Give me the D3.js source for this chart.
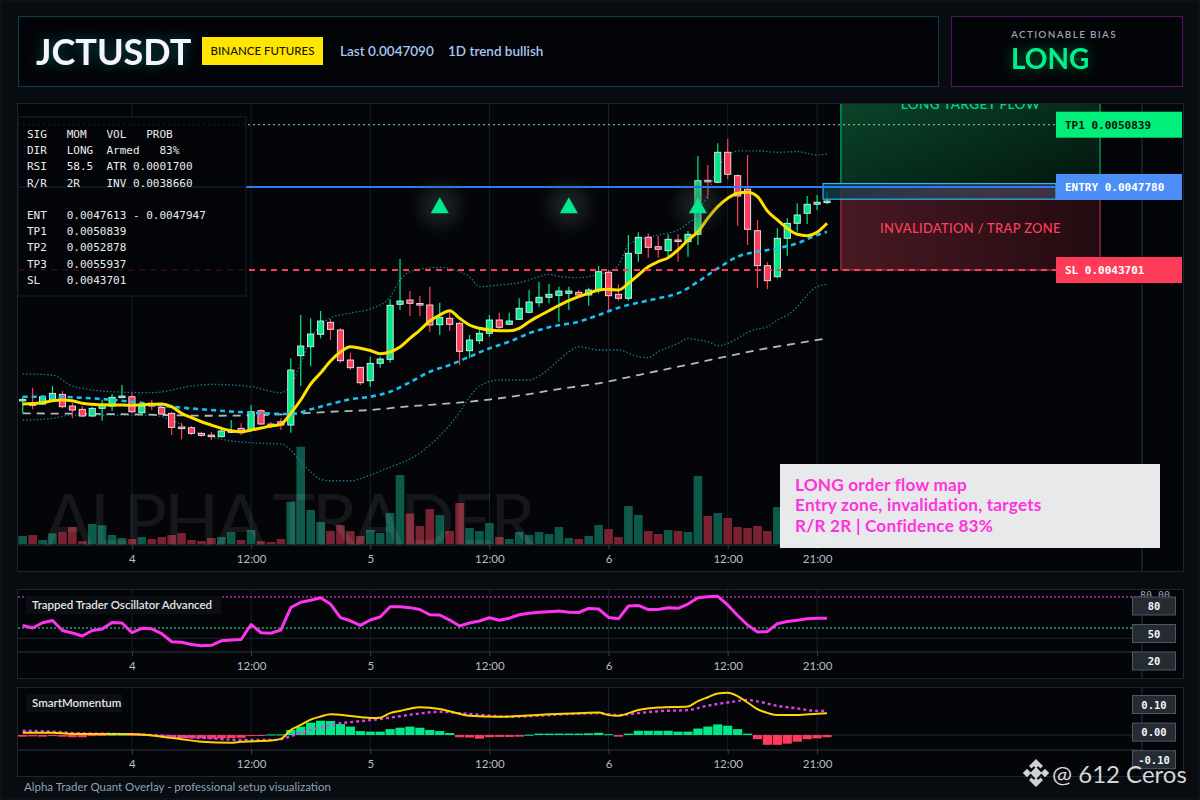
<!DOCTYPE html>
<html>
<head>
<meta charset="utf-8">
<script src="https://cdn.jsdelivr.net/npm/d3@7"></script>
<style>
  body { margin: 0; background: #080b10; }
  svg { display: block; }
</style>
</head>
<body>
<div id="chart"></div>
<script>
// ---- data (hourly candles, day 3 13:00 -> day 6 22:00) ----
const candleOpen = [0.0037279,0.0037151,0.0037116,0.0037313,0.0037593,0.0037018,0.0036856,0.0036527,0.0036905,0.0037018,
  0.0037446,0.0037475,0.0036689,0.0037116,0.0036954,0.0036659,0.0035986,0.0035952,0.0035677,0.0035593,
  0.0035510,0.0035740,0.0035922,0.0035839,0.0036787,0.0036134,0.0036247,0.0036084,0.0039490,0.0039932,
  0.0040542,0.0041131,0.0040753,0.0039279,0.0038920,0.0038261,0.0039116,0.0039313,0.0042016,0.0042227,
  0.0042055,0.0041981,0.0041013,0.0041328,0.0041082,0.0039736,0.0040227,0.0040591,0.0041244,0.0041033,
  0.0041279,0.0041623,0.0042094,0.0042360,0.0042458,0.0042556,0.0042605,0.0042473,0.0042718,0.0043588,
  0.0042507,0.0042310,0.0044522,0.0045308,0.0044846,0.0044650,0.0045175,0.0045092,0.0045455,0.0048109,
  0.0048011,0.0049485,0.0048335,0.0047667,0.0045632,0.0043912,0.0043372,0.0045259,0.0045996,0.0046487,
  0.0046930,0.0047043];
const candleClose = [0.0037347,0.0037053,0.0037475,0.0037642,0.0036984,0.0036822,0.0036527,0.0036905,0.0037067,0.0037446,
  0.0037510,0.0036738,0.0037018,0.0037018,0.0036625,0.0035971,0.0035937,0.0035677,0.0035578,0.0035544,
  0.0035790,0.0035804,0.0035706,0.0036738,0.0036134,0.0036084,0.0036084,0.0038787,0.0039967,0.0040556,
  0.0041195,0.0040787,0.0039244,0.0038900,0.0038163,0.0039116,0.0039328,0.0041967,0.0042178,0.0042065,
  0.0042006,0.0040998,0.0041377,0.0041033,0.0039706,0.0040261,0.0040591,0.0041244,0.0040886,0.0041195,
  0.0041819,0.0042129,0.0042360,0.0042507,0.0042669,0.0042669,0.0042473,0.0042718,0.0043618,0.0042438,
  0.0042310,0.0044522,0.0045308,0.0044817,0.0044718,0.0045210,0.0045126,0.0045455,0.0048089,0.0048075,
  0.0049485,0.0048404,0.0047338,0.0045701,0.0043912,0.0043175,0.0045259,0.0045996,0.0046404,0.0046930,
  0.0047028,0.0047090];
const candleHigh = [0.0037475,0.0037917,0.0037559,0.0038001,0.0037755,0.0037180,0.0037018,0.0036984,0.0037313,0.0037608,
  0.0038050,0.0037642,0.0037116,0.0037313,0.0037067,0.0036738,0.0036197,0.0036035,0.0035755,0.0035755,
  0.0036001,0.0036330,0.0036168,0.0037067,0.0036856,0.0036247,0.0036414,0.0039362,0.0041490,0.0041328,
  0.0041686,0.0041293,0.0040836,0.0039608,0.0038949,0.0039441,0.0039441,0.0042261,0.0044242,0.0042669,
  0.0042424,0.0042881,0.0042094,0.0041652,0.0041161,0.0040507,0.0040787,0.0041490,0.0041603,0.0041603,
  0.0042310,0.0042718,0.0043126,0.0043013,0.0042881,0.0042881,0.0042718,0.0042831,0.0043898,0.0043701,
  0.0042998,0.0045421,0.0045554,0.0045505,0.0045372,0.0045455,0.0045455,0.0045618,0.0049303,0.0048861,
  0.0049927,0.0050139,0.0048404,0.0049352,0.0046158,0.0044080,0.0045750,0.0046242,0.0046979,0.0047338,
  0.0047387,0.0047583];
const candleLow = [0.0036659,0.0036856,0.0037067,0.0037229,0.0036905,0.0036414,0.0036463,0.0036492,0.0036296,0.0036772,
  0.0037396,0.0036659,0.0036576,0.0036822,0.0036576,0.0035593,0.0035382,0.0035593,0.0035510,0.0035347,
  0.0035480,0.0035677,0.0035593,0.0035755,0.0036084,0.0035922,0.0035839,0.0035706,0.0038001,0.0038984,
  0.0040345,0.0040261,0.0039146,0.0038787,0.0038050,0.0037967,0.0038900,0.0039146,0.0041736,0.0041441,
  0.0041441,0.0040669,0.0040507,0.0040718,0.0039033,0.0039362,0.0040065,0.0040424,0.0040787,0.0040998,
  0.0041244,0.0041573,0.0041898,0.0042065,0.0041161,0.0041736,0.0042389,0.0041947,0.0042556,0.0041736,
  0.0042193,0.0042193,0.0044109,0.0044306,0.0044306,0.0044306,0.0044109,0.0044355,0.0044930,0.0047190,
  0.0047962,0.0048158,0.0045878,0.0044930,0.0042802,0.0042768,0.0043293,0.0044404,0.0045583,0.0045962,
  0.0046650,0.0046930];
const volume = [80,90,40,107,120,170,30,200,187,90,
  60,50,70,50,70,90,110,40,30,60,
  70,120,40,140,30,20,50,423,973,340,
  220,130,190,130,80,140,110,310,690,305,
  180,350,290,130,410,160,130,210,70,50,
  120,90,120,100,170,60,50,80,190,150,
  70,380,290,130,100,140,130,120,680,280,
  310,260,170,160,180,130,370,240,160,190,
  140,90];

// overlays
const emaFast = [0.0037116,0.0037141,0.0037180,0.0037279,0.0037313,0.0037279,0.0037151,0.0037102,0.0037082,0.0037067,
  0.0037067,0.0037053,0.0037082,0.0037102,0.0037116,0.0036984,0.0036659,0.0036443,0.0036247,0.0036084,
  0.0035922,0.0035804,0.0035755,0.0035839,0.0035937,0.0036035,0.0036119,0.0036659,0.0037313,0.0038099,
  0.0038640,0.0039229,0.0039672,0.0039932,0.0039853,0.0039745,0.0039588,0.0039672,0.0039917,0.0040345,
  0.0040753,0.0041195,0.0041490,0.0041701,0.0041328,0.0040998,0.0040836,0.0040753,0.0040718,0.0040718,
  0.0040836,0.0041161,0.0041441,0.0041701,0.0041957,0.0042193,0.0042389,0.0042556,0.0042718,0.0042753,
  0.0042718,0.0043048,0.0043456,0.0043863,0.0044109,0.0044306,0.0044684,0.0045175,0.0045583,0.0046242,
  0.0046812,0.0047224,0.0047470,0.0047519,0.0047303,0.0046600,0.0046158,0.0045750,0.0045455,0.0045387,
  0.0045554,0.0045996];
const emaSlowIdx = [0,3,7,11,15,19,23,27,29,31,33,35,37,39,41,43,45,47,49,51,53,54,56,58,60,62,64,66,68,70,72,74,76,78,80,81];
const emaSlowVal = [0.0037475,0.0037475,0.0037396,0.0037229,0.0036984,0.0036822,0.0036689,0.0036625,0.0036856,0.0037116,
  0.0037347,0.0037475,0.0037721,0.0038188,0.0038704,0.0039033,0.0039441,0.0039853,0.0040178,0.0040591,
  0.0040886,0.0040984,0.0041161,0.0041490,0.0041849,0.0042094,0.0042310,0.0042556,0.0043126,0.0043785,
  0.0044355,0.0044600,0.0044768,0.0045013,0.0045421,0.0045583];
const maLongIdx = [0,11,19,23,27,31,35,39,43,47,51,54,58,62,66,70,74,78,81];
const maLongVal = [0.0036659,0.0036610,0.0036541,0.0036561,0.0036625,0.0036738,0.0036822,0.0037008,0.0037151,0.0037337,
  0.0037607,0.0037853,0.0038134,0.0038542,0.0038949,0.0039362,0.0039770,0.0040099,0.0040345];
const bbUpperIdx = [0,3,5,9,13,17,19,23,26,27,28,29,30,31,33,35,37,38,39,40,42,44,45,46,48,50,52,53,54,56,58,59,60,61,62,64,66,67,68,69,70,71,72,74,76,78,80,81];
const bbUpperVal = [0.0038591,0.0038542,0.0038001,0.0037721,0.0037672,0.0038001,0.0038084,0.0037967,0.0037672,0.0038050,
  0.0039116,0.0040261,0.0040998,0.0041342,0.0041588,0.0041785,0.0042374,0.0043210,0.0043618,0.0043736,
  0.0043834,0.0043618,0.0043372,0.0042881,0.0042964,0.0043077,0.0043372,0.0043490,0.0043392,0.0043323,
  0.0043490,0.0043618,0.0043947,0.0044930,0.0045175,0.0045421,0.0045667,0.0045996,0.0046404,0.0047470,
  0.0048699,0.0049269,0.0049549,0.0049549,0.0049485,0.0049514,0.0049352,0.0049401];
const bbLowerIdx = [0,3,5,9,13,15,17,20,23,26,27,28,29,30,31,33,35,37,39,40,41,42,43,44,45,46,48,51,52,54,55,56,58,60,62,63,64,66,67,68,69,70,71,72,73,74,75,76,77,78,79,80,81];
const bbLowerVal = [0.0036330,0.0036414,0.0036576,0.0036576,0.0036576,0.0036330,0.0035839,0.0035382,0.0035215,0.0035151,
  0.0034856,0.0034281,0.0033790,0.0033416,0.0033347,0.0033347,0.0033628,0.0034021,0.0034414,0.0034709,
  0.0035102,0.0035544,0.0036084,0.0036723,0.0037460,0.0038001,0.0038296,0.0038296,0.0038492,0.0039279,
  0.0039686,0.0039932,0.0039770,0.0039770,0.0039441,0.0039391,0.0039686,0.0040099,0.0040345,0.0040261,
  0.0040178,0.0039981,0.0040099,0.0040345,0.0040640,0.0040802,0.0040915,0.0041244,0.0041490,0.0041898,
  0.0042473,0.0042881,0.0042998];

// setup levels
const tp1 = 0.0050839, tp2 = 0.0052878, entry = 0.0047780, sl = 0.0043701;
const entZoneTop = 0.0047947, entZoneBottom = 0.0047180;
const zoneStartIdx = 82.4, zoneEndIdx = 108.5, entZoneStartIdx = 80.6;
const signalIdx = [42, 55, 68];
const signalPrice = 0.0046856;

// lower panels
const trapOsc = [52.4,50.0,55.1,57.3,47.6,45.2,42.3,47.6,49.0,55.3,
  54.8,45.6,49.7,49.2,44.5,36.7,36.2,34.0,32.9,33.2,
  37.6,38.4,38.9,53.4,45.4,45.0,48.1,69.8,74.9,76.9,
  79.3,73.2,60.0,57.0,52.5,57.7,60.6,70.6,70.6,69.7,
  67.9,62.8,62.6,57.7,51.9,54.8,56.8,59.9,57.5,59.5,
  62.8,64.3,65.2,65.7,66.4,65.3,65.0,68.9,68.4,60.2,
  58.9,71.3,71.8,67.8,67.9,69.6,69.1,73.2,79.2,80.2,
  80.7,72.3,62.1,52.9,46.1,46.6,54.2,56.2,57.5,58.9,
  59.4,59.4];
const oscLevels = [80, 50, 20];
const momHist = [-0.006,-0.005,-0.006,-0.004,-0.006,-0.008,-0.008,-0.004,-0.002,0.001,
  0.001,-0.002,-0.003,-0.002,-0.004,-0.009,-0.011,-0.012,-0.012,-0.013,
  -0.012,-0.011,-0.010,-0.004,-0.003,0.002,0.002,0.018,0.030,0.044,
  0.051,0.050,0.039,0.030,0.014,0.012,0.012,0.021,0.026,0.030,
  0.026,0.018,0.014,0.007,-0.008,-0.009,-0.013,-0.008,-0.007,-0.007,
  -0.006,0.001,0.005,0.005,0.005,0.005,0.005,0.006,0.008,0.003,
  -0.006,0.005,0.015,0.015,0.015,0.015,0.012,0.012,0.023,0.030,
  0.038,0.033,0.021,0.005,-0.015,-0.035,-0.035,-0.031,-0.024,-0.015,
  -0.012,-0.008];
const momLineIdx = [0,3,5,8,11,14,16,18,21,22,25,26,27,28,29,30,31,33,35,36,37,38,39,40,42,43,45,48,50,53,56,58,59,60,62,64,67,68,69,70,71,72,73,74,75,76,78,80,81];
const momLineVal = [0.008,0.008,0.004,0.004,0.004,-0.006,-0.015,-0.024,-0.028,-0.024,
  -0.020,-0.014,0.018,0.036,0.055,0.066,0.074,0.068,0.061,0.062,
  0.078,0.086,0.094,0.099,0.093,0.085,0.069,0.065,0.068,0.074,
  0.078,0.080,0.071,0.069,0.089,0.098,0.102,0.121,0.135,0.148,
  0.151,0.139,0.116,0.092,0.079,0.071,0.071,0.076,0.078];
const momSignalIdx = [0,3,5,9,13,16,19,22,25,26,27,29,30,32,33,35,38,40,42,44,46,49,52,55,58,60,62,64,67,69,71,73,74,76,78,80,81];
const momSignalVal = [0.015,0.012,0.007,0.004,0.000,-0.006,-0.012,-0.018,-0.018,-0.015,
  -0.004,0.018,0.027,0.042,0.046,0.053,0.067,0.077,0.083,0.078,
  0.072,0.065,0.069,0.075,0.078,0.071,0.078,0.085,0.089,0.105,
  0.116,0.125,0.120,0.104,0.095,0.086,0.087];
const momLevels = [0.10, 0.00, -0.10];

const timeTickIdx = [11, 23, 35, 47, 59, 71, 80];
const timeTickLabels = ["4", "12:00", "5", "12:00", "6", "12:00", "21:00"];

const infoLines = [
  "SIG   MOM   VOL   PROB",
  "DIR   LONG  Armed   83%",
  "RSI   58.5  ATR 0.0001700",
  "R/R   2R    INV 0.0038660",
  "",
  "ENT   0.0047613 - 0.0047947",
  "TP1   0.0050839",
  "TP2   0.0052878",
  "TP3   0.0055937",
  "SL    0.0043701",
];
const noteLines = ["LONG order flow map", "Entry zone, invalidation, targets", "R/R 2R | Confidence 83%"];

// ---- drawing ----
const W = 1200, H = 800;
const SANS = "Lato, 'Open Sans', sans-serif";
const MONO = "'DejaVu Sans Mono', monospace";
const UP = "#00e887", DOWN = "#ff3b5c";

const svg = d3.select("#chart").append("svg").attr("width", W).attr("height", H);
const defs = svg.append("defs");

function glow(id, color, dev) {
  const f = defs.append("filter").attr("id", id).attr("x", "-50%").attr("y", "-80%").attr("width", "200%").attr("height", "260%");
  f.append("feGaussianBlur").attr("in", "SourceAlpha").attr("stdDeviation", dev).attr("result", "b");
  f.append("feFlood").attr("flood-color", color).attr("flood-opacity", 0.7);
  f.append("feComposite").attr("in2", "b").attr("operator", "in").attr("result", "g");
  const m = f.append("feMerge");
  m.append("feMergeNode").attr("in", "g");
  m.append("feMergeNode").attr("in", "SourceGraphic");
}
glow("glowTeal", "#0e6f78", 6);
glow("glowGreen", "#009a55", 6);

function linGrad(id, stops, x2 = "100%", y2 = "0%") {
  const g = defs.append("linearGradient").attr("id", id).attr("x1", "0%").attr("y1", "0%").attr("x2", x2).attr("y2", y2);
  stops.forEach(([o, c, a]) => g.append("stop").attr("offset", o).attr("stop-color", c).attr("stop-opacity", a));
}
linGrad("gGreen", [["0%", "#0c4d2e", 0.95], ["100%", "#03170e", 0.95]], "100%", "100%");
linGrad("gRed", [["0%", "#4c1a24", 0.95], ["100%", "#250b11", 0.95]]);
linGrad("gEntry", [["0%", "#0f3a48", 0.8], ["100%", "#5a6078", 0.45]]);
const rg = defs.append("radialGradient").attr("id", "gHalo");
rg.append("stop").attr("offset", "0%").attr("stop-color", "#3a4644").attr("stop-opacity", 0.55);
rg.append("stop").attr("offset", "100%").attr("stop-color", "#3a4644").attr("stop-opacity", 0);

svg.append("rect").attr("width", W).attr("height", H).attr("fill", "#080b10");
svg.append("rect").attr("x", 1).attr("y", 1).attr("width", W - 2).attr("height", H - 2)
  .attr("fill", "none").attr("stroke", "#131a22");

// header
svg.append("rect").attr("x", 18.5).attr("y", 16.5).attr("width", 920).attr("height", 70)
  .attr("fill", "#020407").attr("stroke", "#0d3b48").attr("stroke-width", 1.2);
svg.append("text").attr("x", 36).attr("y", 65).attr("fill", "#f4f6f8").attr("font-family", SANS)
  .attr("font-weight", 700).attr("font-size", 36).attr("filter", "url(#glowTeal)").text("JCTUSDT");
svg.append("rect").attr("x", 202).attr("y", 37).attr("width", 121).attr("height", 28).attr("fill", "#ffe600");
svg.append("text").attr("x", 262.5).attr("y", 55).attr("text-anchor", "middle").attr("fill", "#1a1700")
  .attr("font-family", SANS).attr("font-weight", 500).attr("font-size", 11.5).text("BINANCE FUTURES");
svg.append("text").attr("x", 340).attr("y", 56).attr("fill", "#a9c6f2").attr("font-family", SANS)
  .attr("font-weight", 600).attr("font-size", 13.5).text("Last 0.0047090");
svg.append("text").attr("x", 448).attr("y", 56).attr("fill", "#a9c6f2").attr("font-family", SANS)
  .attr("font-weight", 600).attr("font-size", 13.5).text("1D trend bullish");

svg.append("rect").attr("x", 951.5).attr("y", 16.5).attr("width", 231).attr("height", 70)
  .attr("fill", "#020407").attr("stroke", "#4e1656").attr("stroke-width", 1.2);
svg.append("text").attr("x", 1011).attr("y", 38).attr("fill", "#9aa1ab").attr("font-family", SANS)
  .attr("font-weight", 600).attr("font-size", 10).attr("letter-spacing", 1.3).text("ACTIONABLE BIAS");
svg.append("text").attr("x", 1011).attr("y", 69).attr("fill", "#00f08a").attr("font-family", SANS)
  .attr("font-weight", 700).attr("font-size", 28).attr("filter", "url(#glowGreen)").text("LONG");

// panels
const panels = [
  { y: 103.5, h: 468 },
  { y: 589.5, h: 89 },
  { y: 687.5, h: 89 },
];
panels.forEach((p) => {
  svg.append("rect").attr("x", 17.5).attr("y", p.y).attr("width", 1166).attr("height", p.h)
    .attr("fill", "#030508").attr("stroke", "#1c2532");
});

// scales
const x = d3.scaleLinear().domain([0, 81]).range([22.7, 827]);
const y = d3.scaleLinear().domain([sl, tp1]).range([270, 124.7]);
const yVol = d3.scaleLinear().domain([0, 1000]).range([544, 444]);
const yOsc = d3.scaleLinear().domain([50, 80]).range([628, 597]);
const yMom = d3.scaleLinear().domain([0, 0.1]).range([735, 707]);
const oscBoxY = d3.scaleLinear().domain([20, 80]).range([661, 606]);
const momBoxY = d3.scaleLinear().domain([-0.1, 0.1]).range([759.7, 704.5]);

function clip(id, x0, y0, w, h) {
  defs.append("clipPath").attr("id", id).append("rect").attr("x", x0).attr("y", y0).attr("width", w).attr("height", h);
  return svg.append("g").attr("clip-path", `url(#${id})`);
}

function timeAxis(axisY, gridTop) {
  const g = svg.append("g");
  g.selectAll("line.grid").data(timeTickIdx).enter().append("line")
    .attr("x1", (d) => x(d)).attr("x2", (d) => x(d)).attr("y1", gridTop).attr("y2", axisY)
    .attr("stroke", "#14202a");
  g.append("line").attr("x1", 18).attr("x2", 1142).attr("y1", axisY).attr("y2", axisY).attr("stroke", "#2c3542");
  const axis = d3.axisBottom(x).tickValues(timeTickIdx).tickSize(4).tickPadding(6)
    .tickFormat((d, i) => timeTickLabels[i]);
  const a = svg.append("g").attr("transform", `translate(0, ${axisY})`).call(axis);
  a.select(".domain").remove();
  a.selectAll(".tick line").attr("stroke", "#3a4452");
  a.selectAll(".tick text").attr("fill", "#b6bec8").attr("font-family", SANS).attr("font-size", 11.5);
  svg.append("line").attr("x1", 1142).attr("x2", 1142).attr("y1", gridTop).attr("y2", axisY + 26)
    .attr("stroke", "#2a3444");
}

// ---------- main price panel ----------
timeAxis(545, 104);
const main = clip("clipMain", 18, 104, 1124, 441);
const idx = d3.range(candleOpen.length);

main.append("g").selectAll("rect").data(idx).enter().append("rect")
  .attr("x", (i) => x(i) - 4.3).attr("width", 8.6)
  .attr("y", (i) => yVol(volume[i])).attr("height", (i) => yVol(0) - yVol(volume[i]))
  .attr("fill", (i) => (candleClose[i] >= candleOpen[i] ? "#0d5a4b" : "#7a2231"));

// watermark sits over the volume and is cut by the axis
main.append("text").attr("x", 44).attr("y", 546).attr("fill", "#ffffff").attr("fill-opacity", 0.075)
  .attr("font-family", SANS).attr("font-weight", 400).attr("font-size", 72).attr("letter-spacing", -3)
  .text("ALPHA TRADER");

const sparse = (ids, vals) => ids.map((i, k) => [i, vals[k]]);
const priceLine = d3.line().x((d) => x(d[0])).y((d) => y(d[1])).curve(d3.curveMonotoneX);

[[bbUpperIdx, bbUpperVal], [bbLowerIdx, bbLowerVal]].forEach(([ids, vals]) => {
  main.append("path").datum(sparse(ids, vals)).attr("d", priceLine).attr("fill", "none")
    .attr("stroke", "#177892").attr("stroke-width", 1.3).attr("stroke-dasharray", "1.5 2");
});
main.append("path").datum(sparse(maLongIdx, maLongVal)).attr("d", priceLine).attr("fill", "none")
  .attr("stroke", "#b4b8bc").attr("stroke-width", 1.8).attr("stroke-dasharray", "8 6");

// candles
const cg = main.append("g");
cg.selectAll("line").data(idx).enter().append("line")
  .attr("x1", (i) => x(i)).attr("x2", (i) => x(i))
  .attr("y1", (i) => y(candleHigh[i])).attr("y2", (i) => y(candleLow[i]))
  .attr("stroke", (i) => (candleClose[i] >= candleOpen[i] ? UP : DOWN)).attr("stroke-width", 1.2);
cg.selectAll("rect").data(idx).enter().append("rect")
  .attr("x", (i) => x(i) - 3.1).attr("width", 6.2)
  .attr("y", (i) => y(Math.max(candleOpen[i], candleClose[i])))
  .attr("height", (i) => Math.max(1.6, Math.abs(y(candleOpen[i]) - y(candleClose[i]))))
  .attr("fill", (i) => (candleClose[i] >= candleOpen[i] ? UP : DOWN))
  .attr("stroke", "#e4ecec").attr("stroke-width", 0.9);

main.append("path").datum(sparse(emaSlowIdx, emaSlowVal)).attr("d", priceLine).attr("fill", "none")
  .attr("stroke", "#16c3f0").attr("stroke-width", 2.6).attr("stroke-dasharray", "5 4");
main.append("path").datum(idx.map((i) => [i, emaFast[i]])).attr("d", priceLine).attr("fill", "none")
  .attr("stroke", "#ffe000").attr("stroke-width", 3).attr("stroke-linejoin", "round");

// zones
const zx0 = x(zoneStartIdx), zx1 = x(zoneEndIdx);
main.append("rect").attr("x", zx0).attr("y", y(tp2)).attr("width", zx1 - zx0).attr("height", y(entZoneTop) - y(tp2))
  .attr("fill", "url(#gGreen)").attr("stroke", "#00cc78").attr("stroke-width", 1);
main.append("text").attr("x", (zx0 + zx1) / 2).attr("y", y(tp2) + 26).attr("text-anchor", "middle")
  .attr("fill", "#00d67e").attr("font-family", SANS).attr("font-weight", 600).attr("font-size", 13.5)
  .attr("letter-spacing", 0.4).text("LONG TARGET FLOW");
main.append("rect").attr("x", zx0).attr("y", y(entry)).attr("width", zx1 - zx0).attr("height", y(sl) - y(entry))
  .attr("fill", "url(#gRed)").attr("stroke", "#c8364e").attr("stroke-width", 1);
main.append("text").attr("x", (zx0 + zx1) / 2).attr("y", (y(entry) + y(sl)) / 2 + 5).attr("text-anchor", "middle")
  .attr("fill", "#ff3f5e").attr("font-family", SANS).attr("font-weight", 500).attr("font-size", 13)
  .attr("letter-spacing", 0.3).text("INVALIDATION / TRAP ZONE");
main.append("rect").attr("x", x(entZoneStartIdx)).attr("y", y(entZoneTop))
  .attr("width", 1056 - x(entZoneStartIdx)).attr("height", y(entZoneBottom) - y(entZoneTop))
  .attr("fill", "url(#gEntry)").attr("stroke", "#2bb8f4").attr("stroke-width", 1.2);

// level lines
main.append("line").attr("x1", 18).attr("x2", 1056).attr("y1", y(tp1)).attr("y2", y(tp1))
  .attr("stroke", "#7fd8b4").attr("stroke-width", 1).attr("stroke-dasharray", "2 3");
main.append("line").attr("x1", 18).attr("x2", 1056).attr("y1", y(entry)).attr("y2", y(entry))
  .attr("stroke", "#2f7cf6").attr("stroke-width", 2);
main.append("line").attr("x1", 18).attr("x2", 1056).attr("y1", y(sl)).attr("y2", y(sl))
  .attr("stroke", "#ff3d5a").attr("stroke-width", 2).attr("stroke-dasharray", "6 5");

// signals
const sg = main.append("g").selectAll("g").data(signalIdx).enter().append("g")
  .attr("transform", (i) => `translate(${x(i)}, ${y(signalPrice)})`);
sg.append("circle").attr("r", 30).attr("fill", "url(#gHalo)");
sg.append("path").attr("d", "M0,-8.5 L9,7.5 L-9,7.5 Z").attr("fill", "#00e98c");

// info table
svg.append("rect").attr("x", 18).attr("y", 117).attr("width", 228).attr("height", 179)
  .attr("fill", "#040507").attr("fill-opacity", 0.86).attr("stroke", "#1b222b");
svg.append("g").selectAll("text").data(infoLines).enter().append("text")
  .attr("x", 27).attr("y", (d, i) => 138 + i * 16.2).attr("fill", "#e9ecef")
  .attr("font-family", MONO).attr("font-size", 11).style("white-space", "pre").text((d) => d);

// price tags
const tags = [
  { v: tp1, label: "TP1 0.0050839", bg: "#00ee7a", fg: "#07140c" },
  { v: entry, label: "ENTRY 0.0047780", bg: "#4c8ef6", fg: "#ffffff" },
  { v: sl, label: "SL 0.0043701", bg: "#ff3b5a", fg: "#ffffff" },
];
const tg = svg.append("g").selectAll("g").data(tags).enter().append("g")
  .attr("transform", (d) => `translate(1056, ${y(d.v) - 13})`);
tg.append("rect").attr("width", 126).attr("height", 26).attr("fill", (d) => d.bg);
tg.append("text").attr("x", 9).attr("y", 17).attr("fill", (d) => d.fg).attr("font-family", MONO)
  .attr("font-weight", 700).attr("font-size", 11).text((d) => d.label);

// note box
svg.append("rect").attr("x", 780).attr("y", 464).attr("width", 380).attr("height", 84)
  .attr("fill", "#f0f1f3").attr("fill-opacity", 0.97);
svg.append("g").selectAll("text").data(noteLines).enter().append("text")
  .attr("x", 795).attr("y", (d, i) => 491 + i * 20.3).attr("fill", "#ff33dd")
  .attr("font-family", SANS).attr("font-weight", 700).attr("font-size", 17.2).attr("letter-spacing", 0.2)
  .text((d) => d);

// ---------- trapped trader oscillator ----------
timeAxis(652, 590);
const og = clip("clipOsc", 18, 590, 1124, 62);
og.append("line").attr("x1", 18).attr("x2", 1142).attr("y1", yOsc(40)).attr("y2", yOsc(40)).attr("stroke", "#1e2833");
og.append("line").attr("x1", 18).attr("x2", 1142).attr("y1", yOsc(80)).attr("y2", yOsc(80))
  .attr("stroke", "#ff40ff").attr("stroke-width", 1.2).attr("stroke-dasharray", "2 2");
og.append("line").attr("x1", 18).attr("x2", 1142).attr("y1", yOsc(50)).attr("y2", yOsc(50))
  .attr("stroke", "#1dff8e").attr("stroke-width", 1.2).attr("stroke-dasharray", "2 2");
og.append("path").datum(trapOsc).attr("fill", "none").attr("stroke", "#ff33ee").attr("stroke-width", 3)
  .attr("stroke-linejoin", "round")
  .attr("d", d3.line().x((d, i) => x(i)).y((d) => yOsc(d)));
svg.append("rect").attr("x", 26).attr("y", 596).attr("width", 195).attr("height", 18).attr("fill", "#0b0e13");
svg.append("text").attr("x", 32).attr("y", 609).attr("fill", "#e4e6e9").attr("font-family", SANS)
  .attr("font-weight", 600).attr("font-size", 11.5).text("Trapped Trader Oscillator Advanced");
svg.append("text").attr("x", 1170).attr("y", yOsc(80) + 2).attr("text-anchor", "end").attr("fill", "#9aa2ad")
  .attr("font-family", MONO).attr("font-size", 10).text("80.00");

function levelBoxes(levels, boxY, fmt) {
  const b = svg.append("g").selectAll("g").data(levels).enter().append("g")
    .attr("transform", (d) => `translate(1132.5, ${boxY(d) - 9})`);
  b.append("rect").attr("width", 43).attr("height", 18).attr("fill", "#252a33").attr("stroke", "#4f5664");
  b.append("text").attr("x", 21.5).attr("y", 13).attr("text-anchor", "middle").attr("fill", "#f2f4f6")
    .attr("font-family", MONO).attr("font-weight", 700).attr("font-size", 10.5).text(fmt);
}
levelBoxes(oscLevels, oscBoxY, (d) => d);

// ---------- smart momentum ----------
timeAxis(750, 688);
const mg = clip("clipMom", 18, 688, 1124, 62);
mg.append("line").attr("x1", 18).attr("x2", 1142).attr("y1", yMom(0)).attr("y2", yMom(0)).attr("stroke", "#222c37");
mg.append("g").selectAll("rect").data(idx).enter().append("rect")
  .attr("x", (i) => x(i) - 4.6).attr("width", 9.2)
  .attr("y", (i) => Math.min(yMom(0), yMom(momHist[i])))
  .attr("height", (i) => Math.max(1, Math.abs(yMom(momHist[i]) - yMom(0))))
  .attr("fill", (i) => (momHist[i] >= 0 ? "#00e887" : "#ff3b5c"));
const momLine = d3.line().x((d) => x(d[0])).y((d) => yMom(d[1])).curve(d3.curveMonotoneX);
mg.append("path").datum(sparse(momSignalIdx, momSignalVal)).attr("d", momLine).attr("fill", "none")
  .attr("stroke", "#e040f0").attr("stroke-width", 2.4).attr("stroke-dasharray", "3 3");
mg.append("path").datum(sparse(momLineIdx, momLineVal)).attr("d", momLine).attr("fill", "none")
  .attr("stroke", "#ffd400").attr("stroke-width", 2);
svg.append("rect").attr("x", 26).attr("y", 694).attr("width", 96).attr("height", 18).attr("fill", "#0b0e13");
svg.append("text").attr("x", 32).attr("y", 707).attr("fill", "#e4e6e9").attr("font-family", SANS)
  .attr("font-weight", 600).attr("font-size", 11.5).text("SmartMomentum");
levelBoxes(momLevels, momBoxY, (d) => d.toFixed(2));

// footer
svg.append("text").attr("x", 24).attr("y", 791).attr("fill", "#8da2b4").attr("font-family", SANS)
  .attr("font-size", 11.5).text("Alpha Trader Quant Overlay - professional setup visualization");

const logo = svg.append("g").attr("transform", "translate(1036, 773)").attr("fill", "#cfd1d4");
[[0, 0, 4.2], [-9, 0, 3], [9, 0, 3], [0, -9, 3], [0, 9, 3]].forEach(([cx, cy, s]) => {
  logo.append("rect").attr("x", -s).attr("y", -s).attr("width", 2 * s).attr("height", 2 * s)
    .attr("transform", `translate(${cx}, ${cy}) rotate(45)`);
});
logo.append("path").attr("d", "M-7,-7 L0,-14 L7,-7 L4.5,-4.5 L0,-9 L-4.5,-4.5 Z M-7,7 L0,14 L7,7 L4.5,4.5 L0,9 L-4.5,4.5 Z");
svg.append("text").attr("x", 1052).attr("y", 783).attr("fill", "#d4d6d9").attr("font-family", SANS)
  .attr("font-size", 24).text("@ 612 Ceros");
</script>
</body>
</html>
